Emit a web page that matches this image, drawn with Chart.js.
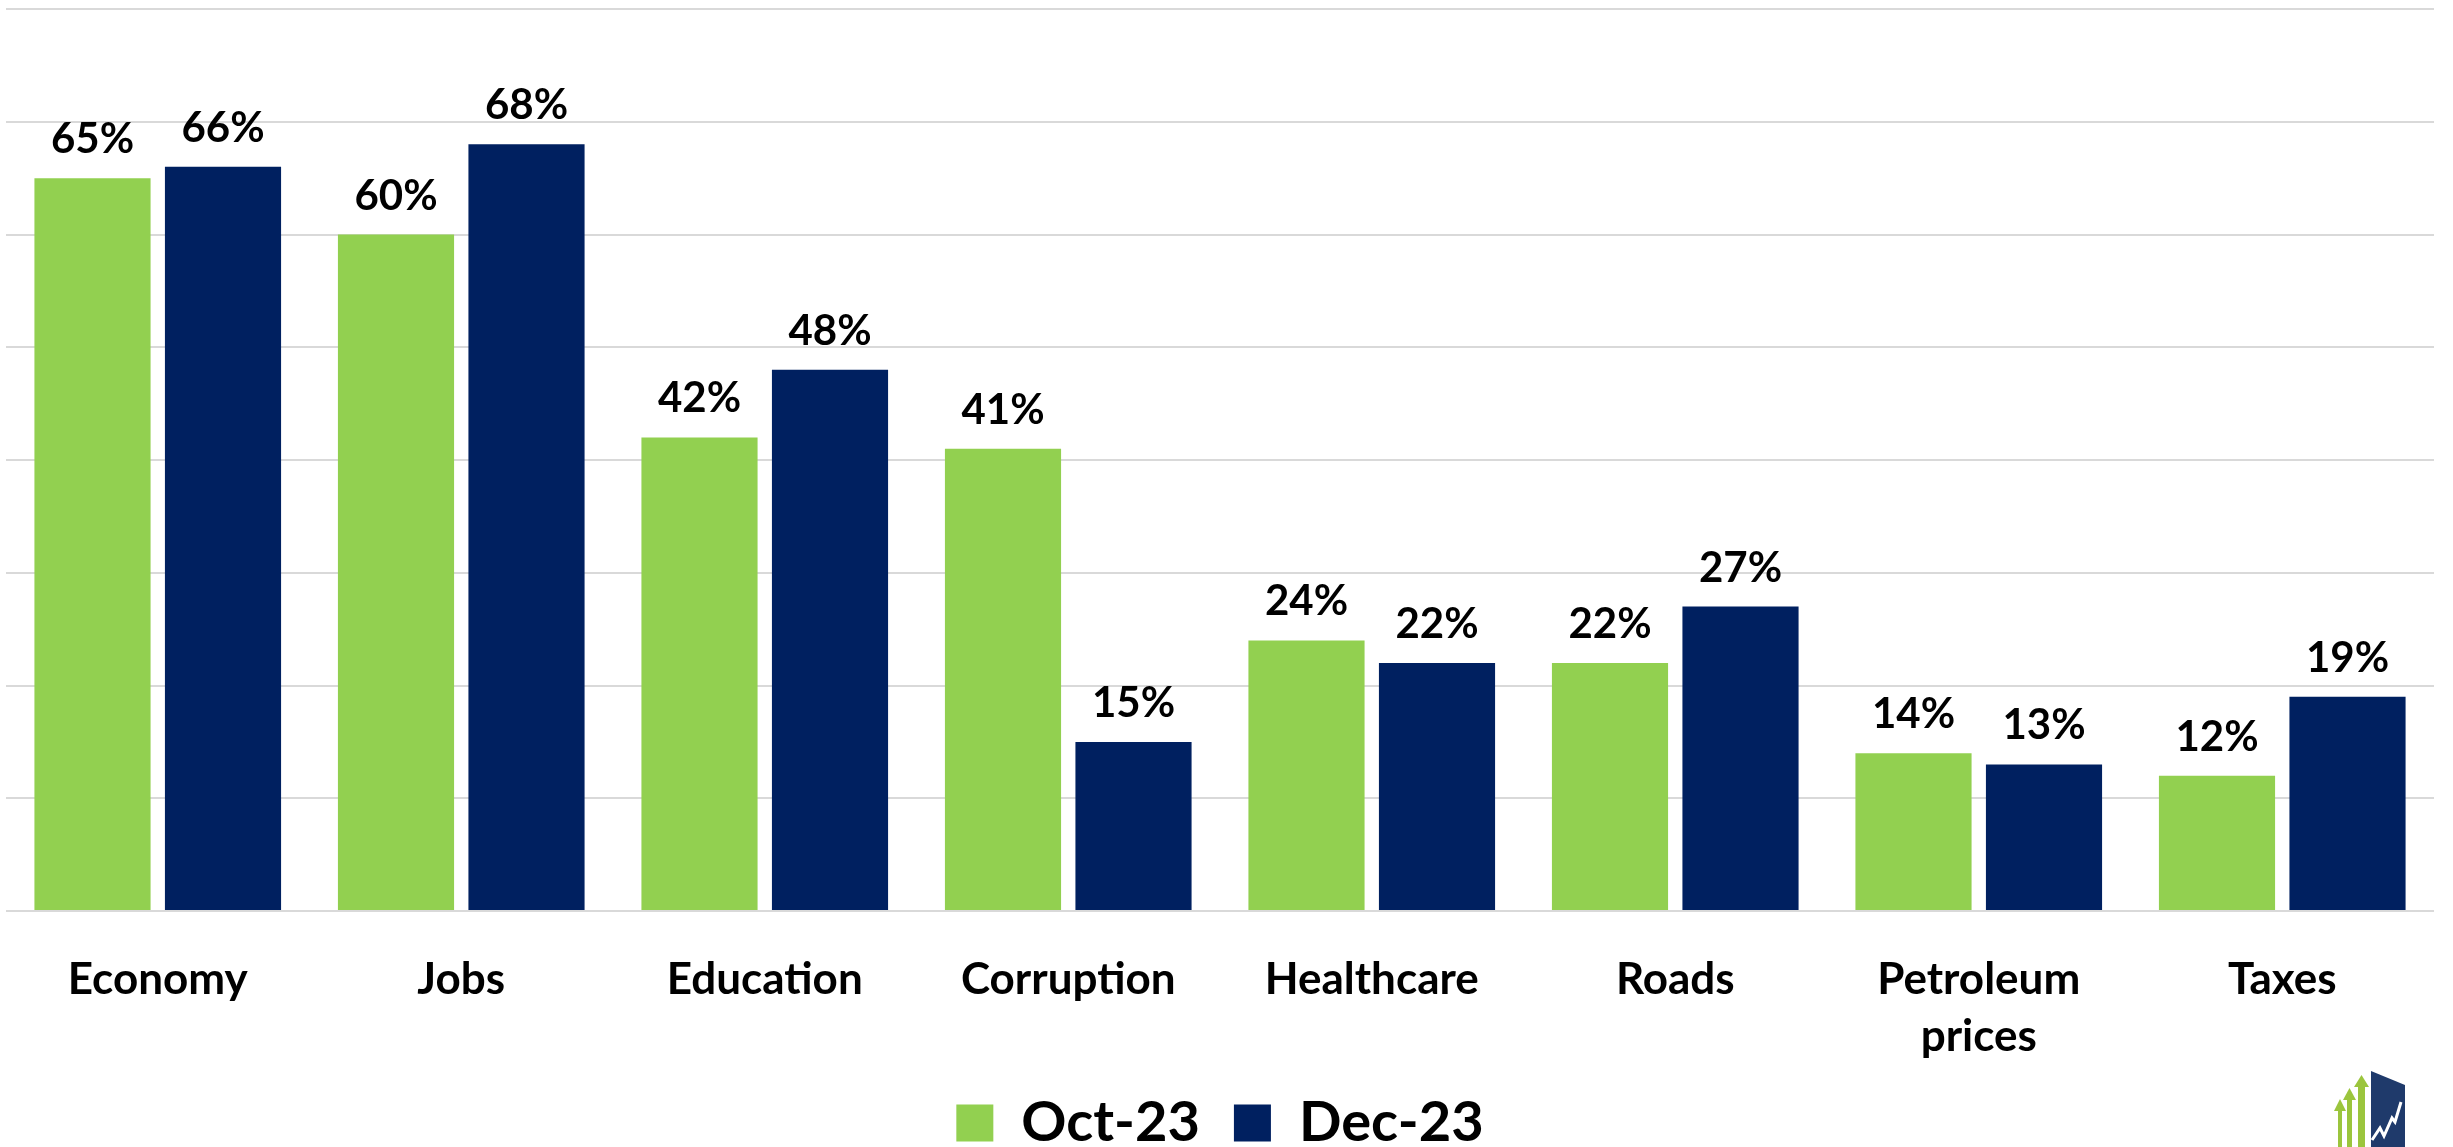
<!DOCTYPE html>
<html lang="en">
<head>
    <meta charset="UTF-8">
    <title>Top issues, Oct-23 vs Dec-23</title>
    <script src="https://cdn.jsdelivr.net/npm/chart.js"></script>
    <style>
        html, body {
            margin: 0;
            padding: 0;
            background-color: #fff;
        }

        #chart-container {
            width: 2453px;
            height: 1147px;
        }
    </style>
</head>
<body>
    <div id="chart-container">
        <canvas id="issuesChart"></canvas>
    </div>

    <script>
        const categories = ['Economy', 'Jobs', 'Education', 'Corruption', 'Healthcare', 'Roads', ['Petroleum', 'prices'], 'Taxes'];
        const seriesNames = ['Oct-23', 'Dec-23'];
        const oct23 = [65, 60, 42, 41, 24, 22, 14, 12];
        const dec23 = [66, 68, 48, 15, 22, 27, 13, 19];
        const yMax = 80;
        const yStep = 10;

        const GREEN = '#92D050';
        const NAVY = '#002060';
        const FONT = 'Lato, "Open Sans", sans-serif';

        // percent labels above each bar
        const valueLabels = {
            id: 'valueLabels',
            afterDatasetsDraw(chart) {
                const ctx = chart.ctx;
                ctx.save();
                ctx.font = 'bold 42px ' + FONT;
                ctx.fillStyle = '#000';
                ctx.textAlign = 'center';
                ctx.textBaseline = 'alphabetic';
                chart.data.datasets.forEach((ds, i) => {
                    chart.getDatasetMeta(i).data.forEach((bar, j) => {
                        ctx.fillText(ds.data[j] + '%', bar.x, bar.y - 25);
                    });
                });
                ctx.restore();
            }
        };

        // legend sits closer to the bottom edge than chart.js puts it
        const tightLegend = {
            id: 'tightLegend',
            beforeInit(chart) {
                const fit = chart.legend.fit;
                chart.legend.fit = function () {
                    fit.call(this);
                    this.height -= 14;
                };
            }
        };

        // small logo in the bottom right corner
        const cornerLogo = {
            id: 'cornerLogo',
            afterDraw(chart) {
                const ctx = chart.ctx;
                ctx.save();
                ctx.fillStyle = '#9BC53D';
                const arrows = [[2336, 1099, 8], [2345, 1088, 9], [2356, 1075, 11]];
                arrows.forEach(([x, top, w]) => {
                    ctx.fillRect(x + 2, top + 10, w - 4, 1147 - top - 10);
                    ctx.beginPath();
                    ctx.moveTo(x - 2, top + 12);
                    ctx.lineTo(x + w / 2, top);
                    ctx.lineTo(x + w + 2, top + 12);
                    ctx.closePath();
                    ctx.fill();
                });
                ctx.fillStyle = '#1F3A6B';
                ctx.beginPath();
                ctx.moveTo(2371, 1071);
                ctx.lineTo(2405, 1085);
                ctx.lineTo(2405, 1147);
                ctx.lineTo(2371, 1147);
                ctx.closePath();
                ctx.fill();
                ctx.strokeStyle = '#fff';
                ctx.lineWidth = 3;
                ctx.beginPath();
                ctx.moveTo(2372, 1140);
                ctx.lineTo(2380, 1128);
                ctx.lineTo(2384, 1136);
                ctx.lineTo(2392, 1118);
                ctx.lineTo(2395, 1122);
                ctx.lineTo(2401, 1102);
                ctx.stroke();
                ctx.restore();
            }
        };

        new Chart(document.getElementById('issuesChart'), {
            type: 'bar',
            data: {
                labels: categories,
                datasets: [
                    {
                        label: seriesNames[0],
                        data: oct23,
                        backgroundColor: GREEN
                    },
                    {
                        label: seriesNames[1],
                        data: dec23,
                        backgroundColor: NAVY
                    }
                ]
            },
            options: {
                responsive: true,
                maintainAspectRatio: false,
                animation: false,
                devicePixelRatio: 1,
                categoryPercentage: 0.86,
                barPercentage: 0.89,
                layout: {
                    padding: { left: 6, right: 19, top: 9, bottom: 0 }
                },
                plugins: {
                    tooltip: { enabled: false },
                    legend: {
                        position: 'bottom',
                        labels: {
                            boxWidth: 37,
                            boxHeight: 37,
                            padding: 34,
                            color: '#000',
                            font: { family: FONT, size: 56, weight: 'bold' }
                        }
                    }
                },
                scales: {
                    x: {
                        grid: { display: false, drawTicks: false },
                        border: { display: false },
                        ticks: {
                            color: '#000',
                            padding: 40,
                            maxRotation: 0,
                            font: { family: FONT, size: 44, weight: 'bold', lineHeight: 1.3 }
                        },
                        afterFit(scale) {
                            scale.height = 150;
                        }
                    },
                    y: {
                        min: 0,
                        max: yMax,
                        border: { display: false },
                        grid: { color: '#D9D9D9', lineWidth: 2, drawTicks: false },
                        ticks: { display: false, stepSize: yStep }
                    }
                }
            },
            plugins: [valueLabels, tightLegend, cornerLogo]
        });
    </script>
</body>
</html>
